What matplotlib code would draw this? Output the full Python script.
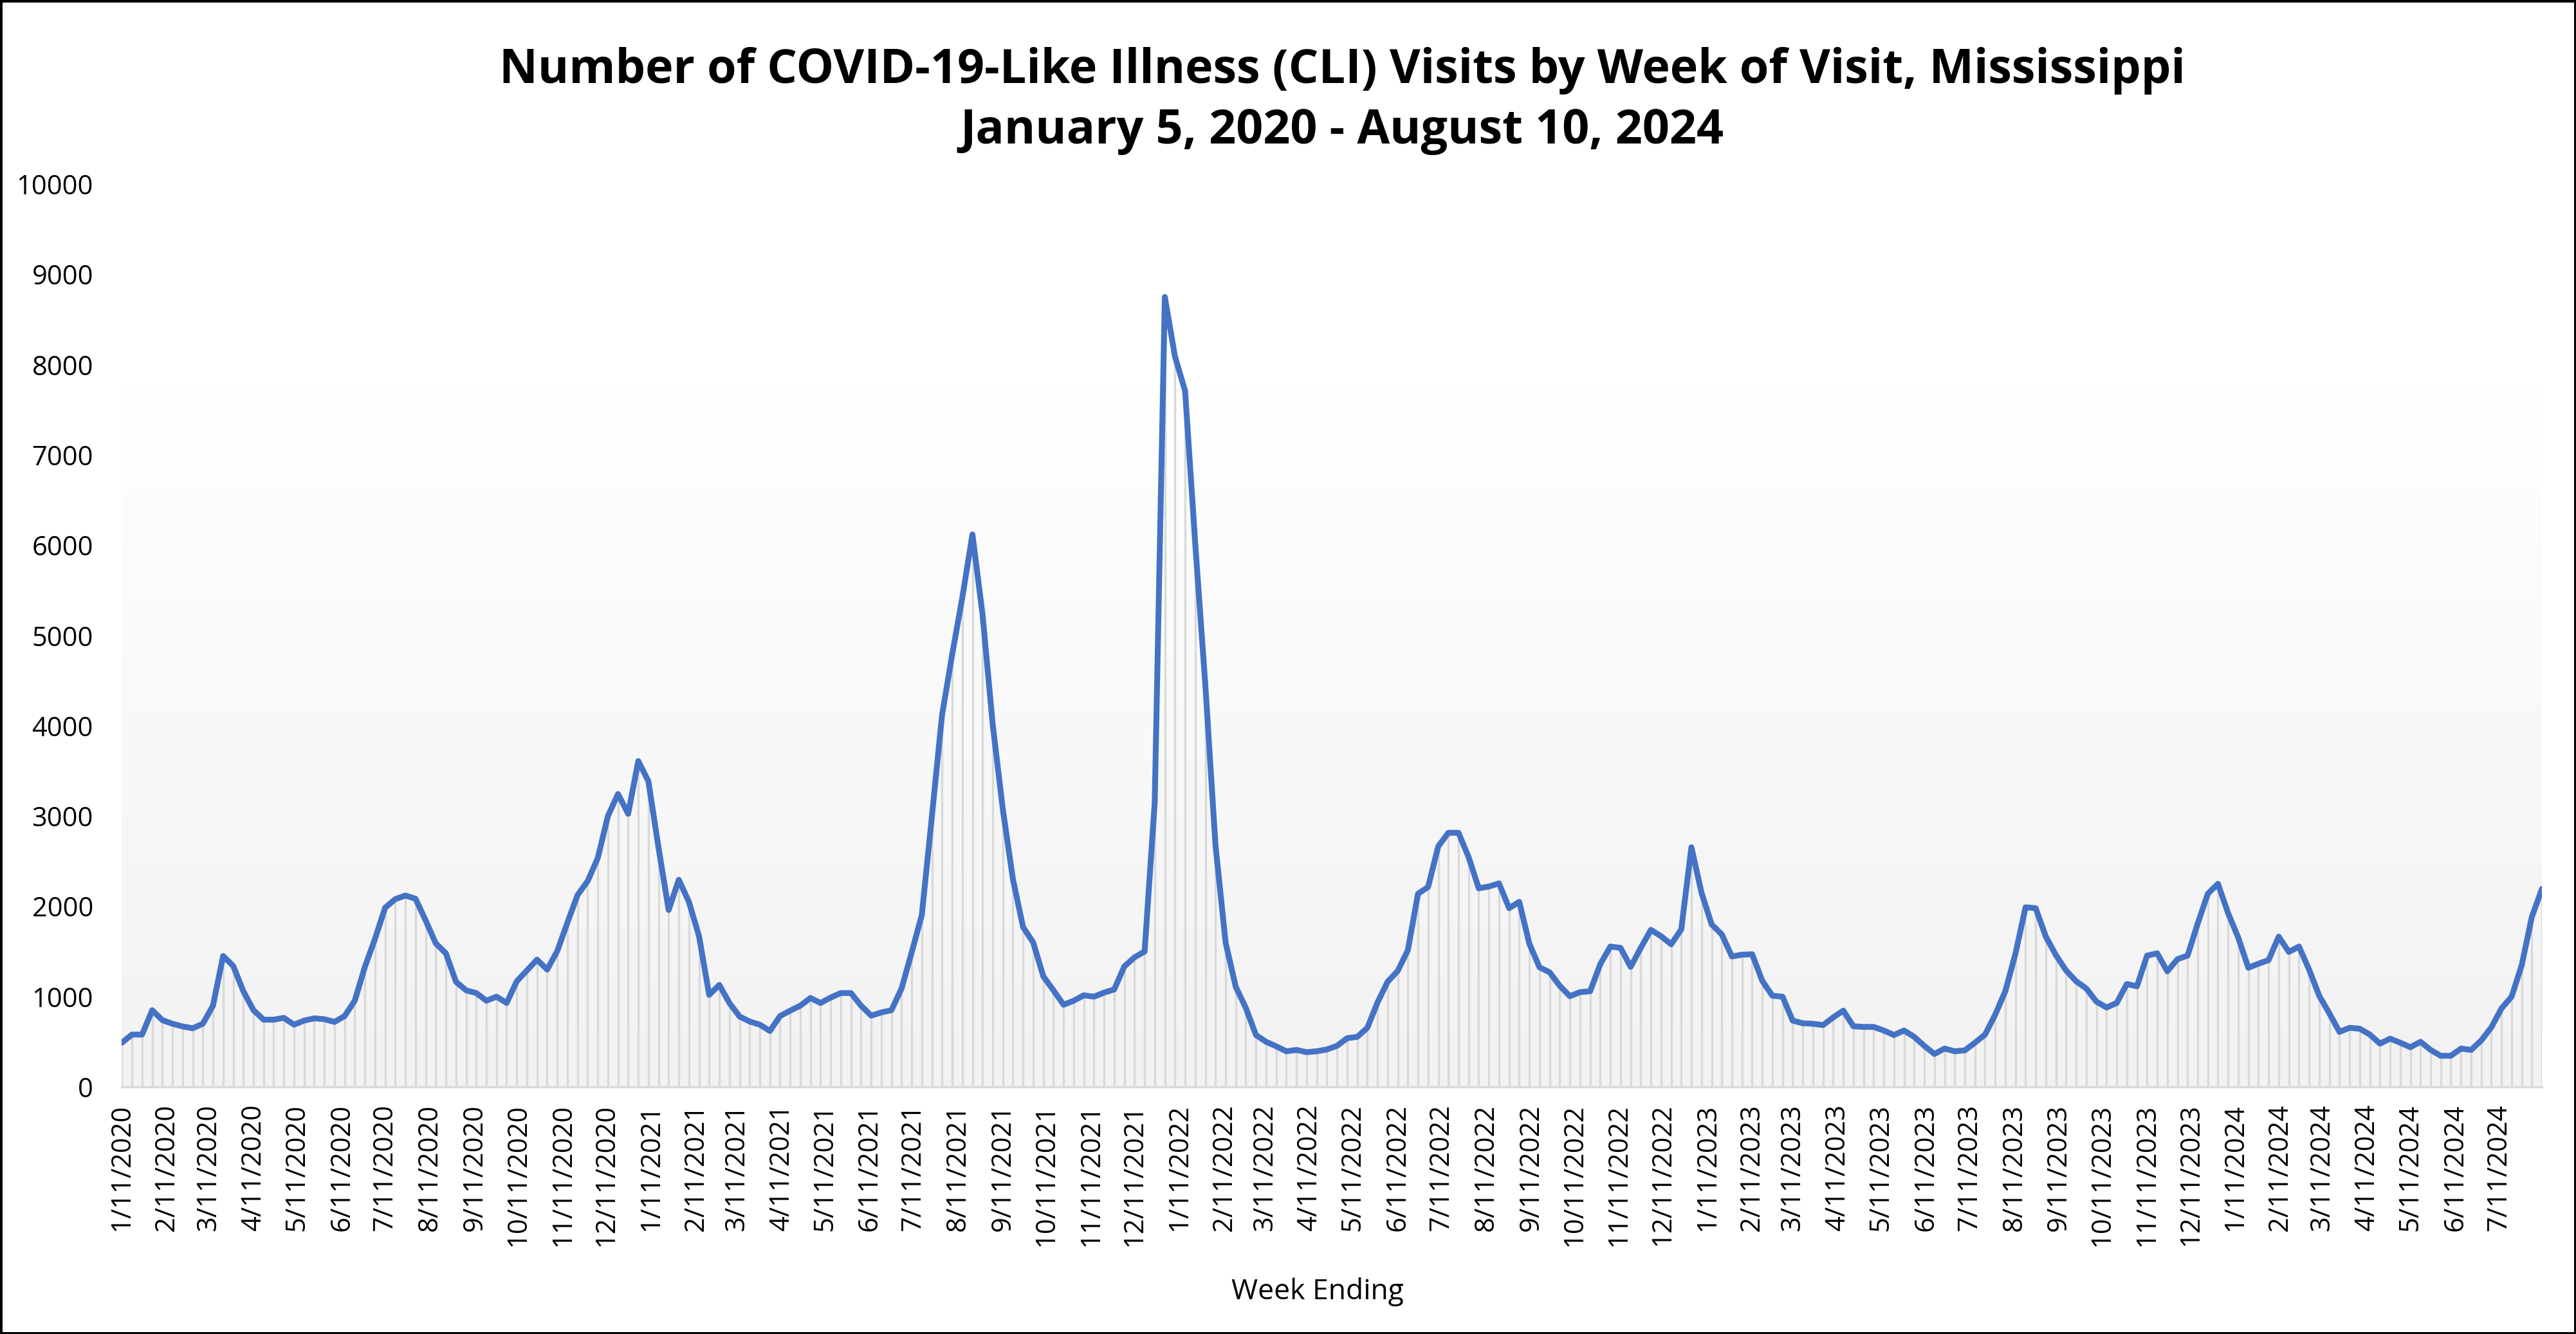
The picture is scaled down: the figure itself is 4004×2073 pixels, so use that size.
import numpy as np
import pandas as pd
import matplotlib
matplotlib.use('Agg')
import matplotlib.pyplot as plt
import matplotlib.dates as mdates
from matplotlib.colors import LinearSegmentedColormap
from matplotlib.patches import Rectangle

# Weekly CLI visits, week ending 1/11/2020 .. 8/10/2024
wk2020 = [490, 580, 580, 850, 740, 700, 670, 650, 700, 900,
          1450, 1340, 1060, 850, 745, 745, 765, 690, 735, 760,
          750, 720, 785, 955, 1330, 1640, 1985, 2080, 2120, 2085,
          1845, 1590, 1480, 1165, 1070, 1040, 955, 1000, 930, 1170,
          1290, 1410, 1300, 1505, 1820, 2125, 2280, 2535, 3000, 3245,
          3025]
wk2021 = [3610, 3385, 2650, 1960, 2295, 2050, 1670, 1020, 1130, 930,
          780, 725, 690, 620, 785, 845, 900, 985, 930, 990,
          1040, 1040, 900, 790, 825, 850, 1090, 1490, 1905, 3000,
          4120, 4790, 5420, 6120, 5230, 4015, 3075, 2300, 1770, 1600,
          1225, 1070, 910, 955, 1015, 1000, 1045, 1080, 1335, 1435,
          1500, 3150]
wk2022 = [8750, 8090, 7710, 6020, 4450, 2680, 1600, 1110, 875, 575,
          500, 450, 395, 410, 385, 395, 415, 455, 540, 555,
          655, 935, 1165, 1285, 1515, 2140, 2215, 2665, 2815, 2815,
          2545, 2200, 2220, 2255, 1980, 2050, 1585, 1325, 1270, 1120,
          1005, 1050, 1060, 1360, 1555, 1540, 1330, 1540, 1740, 1670,
          1580, 1745, 2655]
wk2023 = [2150, 1800, 1690, 1445, 1465, 1470, 1175, 1010, 1000, 735,
          705, 700, 685, 770, 845, 672, 665, 665, 625, 575,
          625, 555, 455, 365, 425, 395, 405, 490, 580, 800,
          1060, 1475, 1990, 1980, 1665, 1460, 1290, 1170, 1090, 945,
          880, 930, 1140, 1115, 1455, 1480, 1280, 1415, 1455, 1810,
          2140, 2250]
wk2024 = [1925, 1655, 1320, 1365, 1405, 1665, 1495, 1555, 1300, 1010,
          815, 610, 655, 645, 580, 480, 535, 490, 440, 500,
          410, 345, 345, 425, 410, 515, 660, 870, 1000, 1350,
          1885, 2195]

visits = wk2020 + wk2021 + wk2022 + wk2023 + wk2024
week_ending = pd.date_range('2020-01-11', periods=len(visits), freq='7D')

# monthly ticks on the 11th, like the Excel date axis
tick_dates = pd.date_range('2020-01-01', '2024-07-01', freq='MS') + pd.Timedelta(days=10)
tick_labels = [f'{d.month}/{d.day}/{d.year}' for d in tick_dates]
y_ticks = list(range(0, 10001, 1000))

title_1 = 'Number of COVID-19-Like Illness (CLI) Visits by Week of Visit, Mississippi'
title_2 = 'January 5, 2020 - August 10, 2024'
x_title = 'Week Ending'

plt.rcParams['font.family'] = ['Open Sans', 'DejaVu Sans']

fig = plt.figure(figsize=(40.04, 20.73), dpi=100)
ax = fig.add_axes([0.0473, 0.1852, 0.9395, 0.6768])

x = mdates.date2num(week_ending)
y = np.array(visits)

# plot area gradient: light gray at the bottom, white from ~3/4 height up
grad = LinearSegmentedColormap.from_list('bg', [(0, '#F2F2F2'), (0.78, '#FFFFFF'), (1, '#FFFFFF')])
ax.imshow(np.linspace(0, 1, 256).reshape(-1, 1), cmap=grad, aspect='auto',
          origin='lower', extent=[x[0], x[-1], 0, 10000], zorder=0)

# drop lines + the series line
ax.vlines(x, 0, y, color='#D9D9D9', linewidth=2.4, zorder=1)
ax.plot(x, y, color='#4472C4', linewidth=6.5, solid_joinstyle='round',
        solid_capstyle='round', zorder=3)

ax.set_xlim(x[0], x[-1])
ax.set_ylim(0, 10000)
ax.set_yticks(y_ticks)
ax.set_yticklabels([str(v) for v in y_ticks])
ax.set_xticks(mdates.date2num(tick_dates))
ax.set_xticklabels(tick_labels, rotation=90)

for side in ['top', 'right', 'left']:
    ax.spines[side].set_visible(False)
ax.spines['bottom'].set_color('#D9D9D9')
ax.spines['bottom'].set_linewidth(2.4)
ax.spines['bottom'].set_zorder(2)

ax.tick_params(axis='y', length=0, pad=32, labelsize=30)
ax.tick_params(axis='x', length=0, pad=19, labelsize=30)

fig.text(0.521, 0.947, title_1, ha='center', va='center', fontsize=53, fontweight='bold')
fig.text(0.521, 0.9016, title_2, ha='center', va='center', fontsize=53, fontweight='bold')
fig.text(0.5115, 0.0318, x_title, ha='center', va='center', fontsize=32)

# black frame around the whole chart
fig.patches.append(Rectangle((0, 0), 1, 1, transform=fig.transFigure, fill=False,
                             edgecolor='black', linewidth=5))

fig.savefig('out.png', dpi=100)
